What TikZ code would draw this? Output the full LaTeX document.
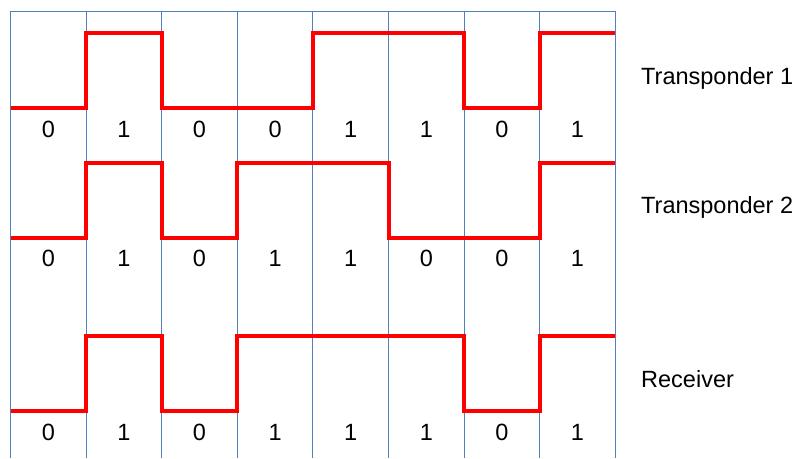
\documentclass[tikz,border=0pt]{standalone}
\usepackage{fontspec}
\setmainfont{Liberation Sans}
\definecolor{gridblue}{RGB}{79,129,189}
\begin{document}
\begin{tikzpicture}[x=1pt,y=-1pt,
  gridline/.style={draw=gridblue, line width=1pt},
  wave/.style={draw=red, line width=4pt, line join=miter},
  bit/.style={font=\fontsize{23.5}{27}\selectfont, anchor=base, inner sep=0pt},
  lbl/.style={font=\fontsize{23.5}{27}\selectfont, anchor=base west, inner sep=0pt}]
\useasboundingbox (0,0) rectangle (800,458);
% grid
\draw[gridline] (10.5,11) -- (615.3,11);
\foreach \i in {0,...,8} \draw[gridline] ({10.5+75.6*\i},11) -- ({10.5+75.6*\i},458);
% Transponder 1: 0 1 0 0 1 1 0 1
\draw[wave] (10.5,108) -| (86.1,33) -| (161.7,108) -| (312.9,33) -| (464.1,108) -| (539.7,33) -- (615.3,33);
% Transponder 2: 0 1 0 1 1 0 0 1
\draw[wave] (10.5,238) -| (86.1,162.5) -| (161.7,238) -| (237.3,162.5) -| (388.5,238) -| (539.7,162.5) -- (615.3,162.5);
% Receiver: 0 1 0 1 1 1 0 1
\draw[wave] (10.5,410.5) -| (86.1,335.5) -| (161.7,410.5) -| (237.3,335.5) -| (464.1,410.5) -| (539.7,335.5) -- (615.3,335.5);
% bit labels
\foreach \b [count=\i from 0] in {0,1,0,0,1,1,0,1}
  \node[bit] (ta\i) at ({48.3+75.6*\i},137) {\b};
\foreach \b [count=\i from 0] in {0,1,0,1,1,0,0,1}
  \node[bit] (tb\i) at ({48.3+75.6*\i},266.5) {\b};
\foreach \b [count=\i from 0] in {0,1,0,1,1,1,0,1}
  \node[bit] (rc\i) at ({48.3+75.6*\i},440) {\b};
% row labels
\node[lbl] (t1) at (641,84) {Transponder 1};
\node[lbl] (t2) at (641,213) {Transponder 2};
\node[lbl] (rx) at (641,387) {Receiver};
\end{tikzpicture}
\end{document}
